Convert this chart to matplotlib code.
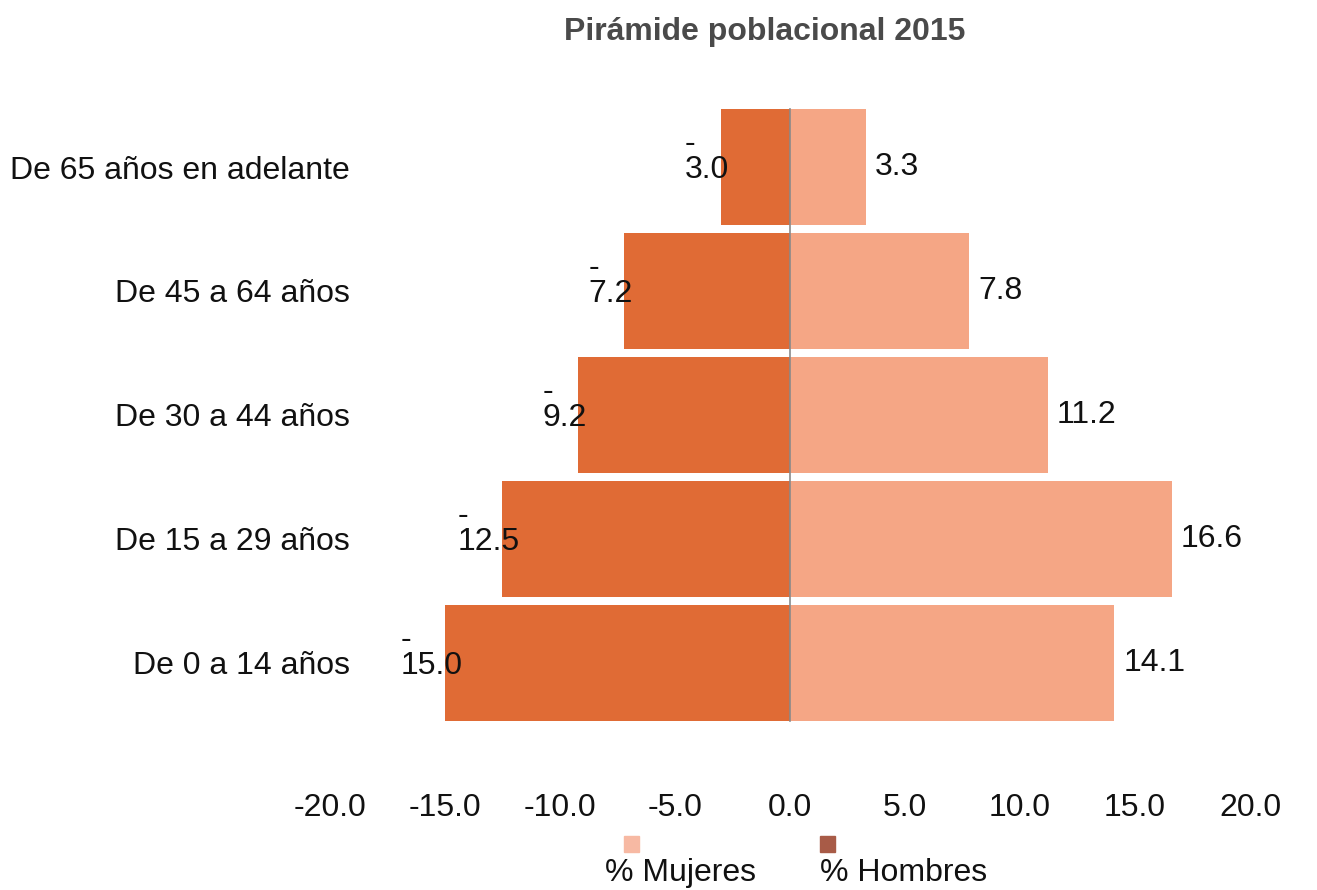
import matplotlib.pyplot as plt
from matplotlib.patches import Rectangle

plt.rcParams['font.family'] = ['Liberation Sans', 'DejaVu Sans']

# data (bottom to top)
grupos = ['De 0 a 14 años', 'De 15 a 29 años', 'De 30 a 44 años',
          'De 45 a 64 años', 'De 65 años en adelante']
hombres = [-15.0, -12.5, -9.2, -7.2, -3.0]
mujeres = [14.1, 16.6, 11.2, 7.8, 3.3]
xticks = [-20, -15, -10, -5, 0, 5, 10, 15, 20]

color_h = '#E06B35'
color_m = '#F5A685'

W, H = 1317, 890
fig = plt.figure(figsize=(W / 100, H / 100), dpi=100)
fig.patch.set_facecolor('white')

# axes placed in pixel terms: 23 px per unit, zero at x=790
ax = fig.add_axes([300 / W, 105 / H, 980 / W, 695 / H])
ax.set_xlim(-21.3, 21.3)
ax.set_ylim(-0.984, 4.621)

y = list(range(len(grupos)))
ax.barh(y, hombres, height=0.94, color=color_h)
ax.barh(y, mujeres, height=0.94, color=color_m)
ax.plot([0, 0], [-0.47, len(grupos) - 1 + 0.47], color='#8a8a8a', lw=1.2)

for yi, v in zip(y, hombres):
    ax.text(v - 0.6, yi + 0.08, '-\n%.1f' % abs(v), ha='center', va='center',
            fontsize=23, linespacing=0.8, multialignment='left', color='#111111')
for yi, v in zip(y, mujeres):
    ax.text(v + 0.4, yi, '%.1f' % v, ha='left', va='center',
            fontsize=23, color='#111111')

ax.set_xticks(xticks)
ax.set_xticklabels(['%.1f' % t for t in xticks])
ax.set_yticks(y)
ax.set_yticklabels(grupos)
ax.tick_params(axis='x', length=0, labelsize=23, pad=6, colors='#111111')
ax.tick_params(axis='y', length=0, labelsize=23, pad=-36, colors='#111111')
for s in ax.spines.values():
    s.set_visible(False)

fig.text(765 / W, 1 - 32 / H, 'Pirámide poblacional 2015', ha='center', va='center',
         fontsize=23, fontweight='bold', color='#4a4a4a')

# legend: small square above each label
leg = [('% Mujeres', '#F7B9A3', 605, 624), ('% Hombres', '#A85B47', 820, 820)]
for lab, c, x0, xs in leg:
    fig.add_artist(Rectangle((xs / W, 1 - 852 / H), 15 / W, 16 / H,
                             transform=fig.transFigure, color=c))
    fig.text(x0 / W, 1 - 873 / H, lab, ha='left', va='center', fontsize=23,
             color='#111111')

fig.savefig('out.png', dpi=100)
